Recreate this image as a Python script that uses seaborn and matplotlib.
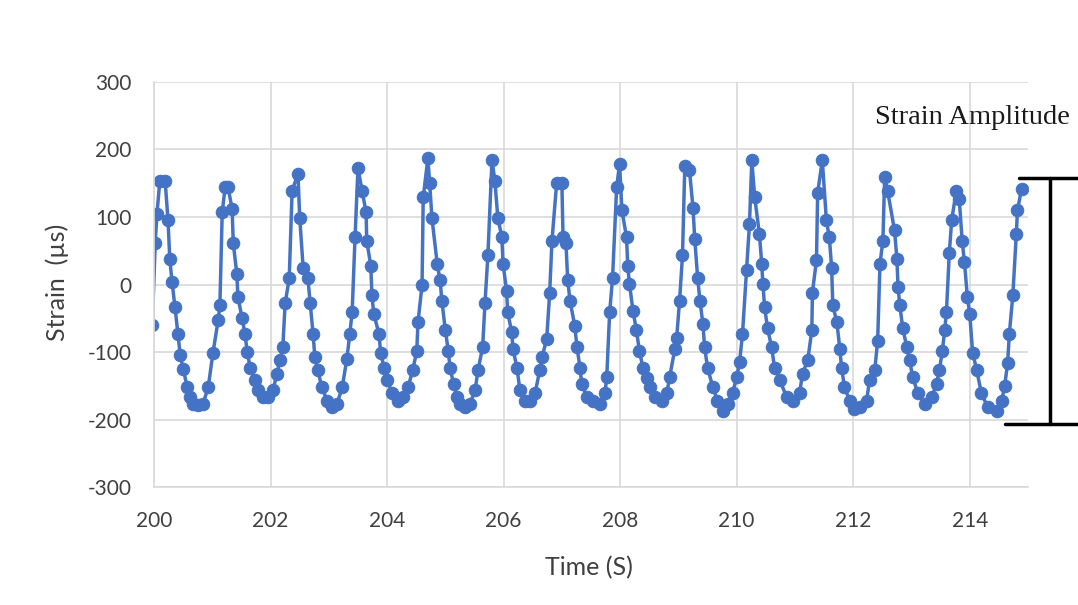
import matplotlib
matplotlib.use("Agg")
import matplotlib.pyplot as plt
import seaborn as sns
import pandas as pd

time_s = [
    199.97, 200.02, 200.05, 200.10, 200.19, 200.24, 200.27, 200.31, 200.36, 200.41,
    200.45, 200.50, 200.57, 200.62, 200.67, 200.75, 200.84, 200.93, 201.01, 201.10,
    201.13, 201.17, 201.22, 201.27, 201.34, 201.36, 201.42, 201.44, 201.51, 201.56,
    201.60, 201.65, 201.73, 201.78, 201.87, 201.96, 202.04, 202.11, 202.16, 202.21,
    202.25, 202.32, 202.37, 202.47, 202.50, 202.56, 202.64, 202.68, 202.73, 202.76,
    202.81, 202.88, 202.97, 203.05, 203.14, 203.23, 203.31, 203.36, 203.40, 203.45,
    203.50, 203.57, 203.64, 203.65, 203.72, 203.74, 203.77, 203.86, 203.89, 203.95,
    204.00, 204.09, 204.18, 204.27, 204.36, 204.44, 204.51, 204.53, 204.60, 204.62,
    204.70, 204.73, 204.77, 204.86, 204.91, 204.94, 205.00, 205.05, 205.08, 205.14,
    205.20, 205.25, 205.33, 205.42, 205.51, 205.56, 205.64, 205.68, 205.73, 205.80,
    205.85, 205.90, 205.97, 205.99, 206.05, 206.07, 206.14, 206.16, 206.23, 206.28,
    206.37, 206.45, 206.54, 206.62, 206.66, 206.74, 206.79, 206.83, 206.91, 207.00,
    207.02, 207.07, 207.10, 207.14, 207.22, 207.26, 207.31, 207.34, 207.43, 207.53,
    207.65, 207.74, 207.77, 207.82, 207.87, 207.94, 207.99, 208.03, 208.11, 208.13,
    208.16, 208.22, 208.28, 208.33, 208.39, 208.46, 208.51, 208.59, 208.71, 208.80,
    208.85, 208.94, 208.97, 209.02, 209.07, 209.11, 209.19, 209.25, 209.28, 209.33,
    209.37, 209.42, 209.45, 209.50, 209.59, 209.67, 209.76, 209.85, 209.93, 210.00,
    210.05, 210.10, 210.17, 210.22, 210.26, 210.31, 210.39, 210.43, 210.45, 210.48,
    210.53, 210.60, 210.65, 210.74, 210.86, 210.96, 211.08, 211.13, 211.22, 211.29,
    211.30, 211.37, 211.39, 211.47, 211.54, 211.59, 211.63, 211.65, 211.72, 211.77,
    211.80, 211.85, 211.94, 212.02, 212.11, 212.23, 212.28, 212.37, 212.42, 212.46,
    212.51, 212.54, 212.59, 212.71, 212.75, 212.77, 212.80, 212.85, 212.92, 212.97,
    213.02, 213.11, 213.23, 213.35, 213.43, 213.48, 213.53, 213.57, 213.60, 213.65,
    213.69, 213.77, 213.82, 213.87, 213.91, 213.96, 214.00, 214.05, 214.12, 214.20,
    214.31, 214.46, 214.55, 214.60, 214.65, 214.68, 214.74, 214.80, 214.82, 214.89,
]

strain_us = [
    -60, 61, 105, 154, 154, 95, 38, 3, -34, -73,
    -105, -125, -152, -167, -177, -179, -177, -152, -102, -53,
    -31, 107, 144, 144, 112, 61, 16, -19, -49, -73,
    -100, -123, -142, -157, -167, -167, -157, -132, -112, -93,
    -28, 9, 139, 164, 99, 24, 10, -28, -73, -108,
    -127, -152, -172, -182, -177, -152, -110, -73, -41, 70,
    173, 139, 107, 65, 28, -16, -43, -73, -102, -123,
    -142, -161, -172, -167, -152, -127, -98, -56, -1, 129,
    187, 151, 98, 31, 6, -24, -68, -98, -123, -147,
    -167, -177, -182, -177, -157, -127, -93, -28, 43, 184,
    154, 99, 70, 31, -9, -41, -71, -95, -124, -157,
    -172, -172, -161, -127, -108, -80, -13, 65, 150, 150,
    70, 61, 6, -24, -61, -93, -123, -147, -167, -172,
    -177, -161, -137, -41, 10, 144, 179, 110, 70, 28,
    1, -39, -68, -98, -123, -138, -152, -167, -172, -161,
    -137, -95, -79, -24, 43, 176, 169, 114, 68, 10,
    -24, -58, -93, -123, -152, -172, -187, -177, -161, -137,
    -115, -73, 21, 90, 184, 129, 75, 31, 1, -34,
    -65, -93, -123, -142, -167, -172, -161, -132, -112, -68,
    -12, 36, 136, 184, 95, 70, 25, -31, -56, -95,
    -123, -152, -172, -184, -182, -172, -142, -127, -83, 31,
    65, 159, 139, 80, 38, -4, -31, -64, -93, -112,
    -137, -161, -177, -167, -147, -127, -98, -68, -41, 47,
    95, 139, 127, 65, 33, -19, -43, -101, -127, -161,
    -182, -187, -172, -150, -117, -73, -16, 75, 110, 142,
]

x_ticks = [200, 202, 204, 206, 208, 210, 212, 214]
y_ticks = [-300, -200, -100, 0, 100, 200, 300]
amp_top, amp_bottom = 158, -207

df = pd.DataFrame({"Time (S)": time_s, "Strain (µs)": strain_us})

sns.set_theme(style="whitegrid")
plt.rcParams["font.family"] = ["Lato", "DejaVu Sans"]
plt.rcParams["axes.unicode_minus"] = False

fig = plt.figure(figsize=(10.78, 6.05), dpi=100)
ax = fig.add_axes([0.1429, 0.195, 0.8107, 0.6695])

blue = "#4472C4"
sns.lineplot(data=df, x="Time (S)", y="Strain (µs)", ax=ax, sort=False,
             estimator=None, color=blue, linewidth=2.5, marker="o",
             markersize=9, markeredgecolor=blue, markerfacecolor=blue)

ax.set_xlim(200, 215)
ax.set_ylim(-300, 300)
ax.set_xticks(x_ticks)
ax.set_yticks(y_ticks)
ax.tick_params(axis="both", labelsize=15, colors="#404040", length=0)
ax.tick_params(axis="y", pad=16)
ax.tick_params(axis="x", pad=17)
ax.grid(True, color="#d9d9d9", linewidth=1.2)
for side in ["top", "right"]:
    ax.spines[side].set_visible(False)
for side in ["left", "bottom"]:
    ax.spines[side].set_color("#d9d9d9")
    ax.spines[side].set_linewidth(1.2)

ax.set_xlabel("Time (S)", fontsize=18, color="#404040")
ax.set_ylabel("Strain  (µs)", fontsize=18, color="#404040")
ax.xaxis.set_label_coords(0.498, -0.2)
ax.xaxis.label.set_va("center")
ax.yaxis.set_label_coords(-0.111, 0.505)
ax.yaxis.label.set_va("center")
ax.yaxis.label.set_ha("center")

# Strain amplitude bracket
ax.plot([214.85, 215.9], [amp_top, amp_top], color="black", lw=2.5, clip_on=False)
ax.plot([214.6, 215.9], [amp_bottom, amp_bottom], color="black", lw=2.5, clip_on=False)
ax.plot([215.37, 215.37], [amp_top, amp_bottom], color="black", lw=2.5, clip_on=False)
ax.text(212.37, 238, "Strain Amplitude", fontsize=20.5, color="#1a1a1a",
        family=["Liberation Serif", "DejaVu Serif"], va="baseline", ha="left",
        clip_on=False)

fig.savefig("out.png", dpi=100)
